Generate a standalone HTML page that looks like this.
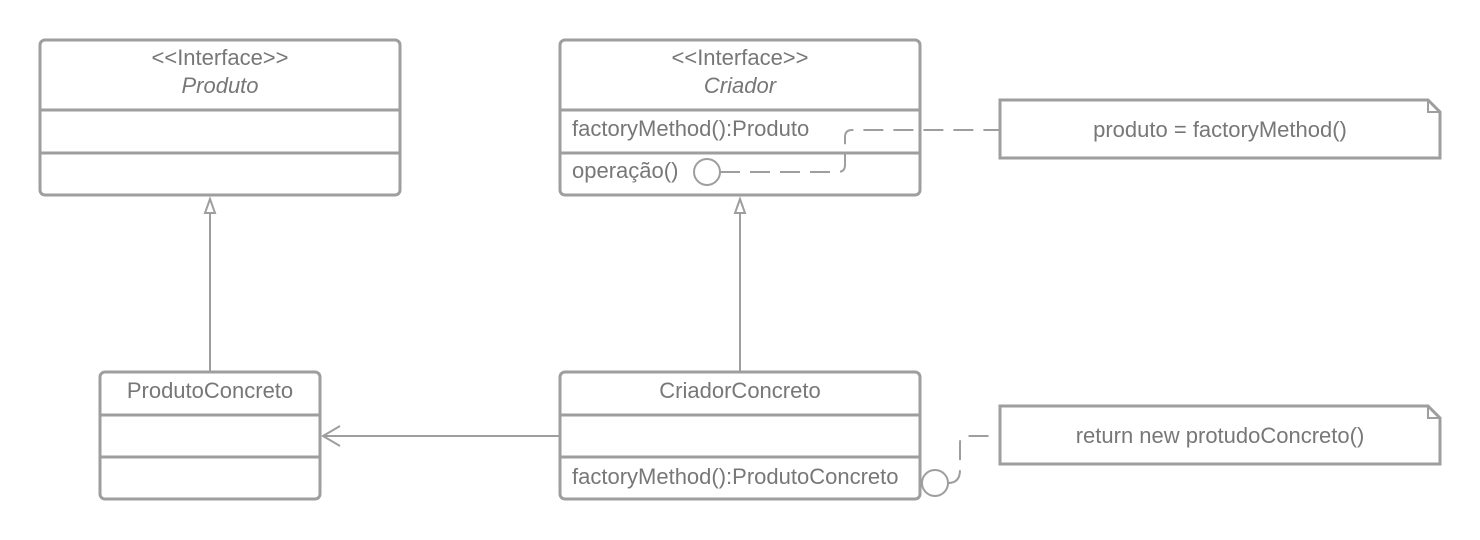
<!DOCTYPE html>
<html><head><meta charset="utf-8"><style>
html,body{margin:0;padding:0;background:#fff;}
svg{display:block;}
text{font-family:"Liberation Sans",sans-serif;fill:#777;font-size:22px;}
</style></head><body>
<svg width="1480" height="540" viewBox="0 0 1480 540" xmlns="http://www.w3.org/2000/svg">
<g fill="none" stroke="#9e9e9e" stroke-width="3">
  <rect x="40" y="40" width="360" height="155" rx="5"/>
  <line x1="40" y1="110" x2="400" y2="110"/>
  <line x1="40" y1="153" x2="400" y2="153"/>
  <rect x="560" y="40" width="360" height="155" rx="5"/>
  <line x1="560" y1="110" x2="920" y2="110"/>
  <line x1="560" y1="153" x2="920" y2="153"/>
  <rect x="100" y="372" width="220" height="127" rx="5"/>
  <line x1="100" y1="415" x2="320" y2="415"/>
  <line x1="100" y1="457" x2="320" y2="457"/>
  <rect x="560" y="372" width="360" height="127" rx="5"/>
  <line x1="560" y1="415" x2="920" y2="415"/>
  <line x1="560" y1="457" x2="920" y2="457"/>
  <path d="M1000 100 H1428 L1440 112 V158 H1000 Z"/>
  <path d="M1428 100 V112 H1440" stroke-width="2"/>
  <path d="M1000 406 H1428 L1440 418 V464 H1000 Z"/>
  <path d="M1428 406 V418 H1440" stroke-width="2"/>
</g>
<g fill="none" stroke="#9e9e9e" stroke-width="2">
  <line x1="210" y1="213" x2="210" y2="372"/>
  <path d="M210 199 L205 213 H215 Z"/>
  <line x1="740" y1="213" x2="740" y2="372"/>
  <path d="M740 199 L735 213 H745 Z"/>
  <line x1="323" y1="436" x2="560" y2="436"/>
  <path d="M340 426 L323 436 L340 446"/>
  <circle cx="707" cy="172" r="13"/>
  <circle cx="935" cy="483" r="13"/>
  <path d="M720 172 H838 Q845 172 845 165 V137 Q845 130 852 130 H1000" stroke-dasharray="20 10"/>
  <path d="M948 483 Q960 483 960 470 V443 Q960 436 967 436 H1000" stroke-dasharray="20 10"/>
</g>
<text x="220" y="65" text-anchor="middle">&lt;&lt;Interface&gt;&gt;</text>
<text x="220" y="93" text-anchor="middle" font-style="italic">Produto</text>
<text x="740" y="65" text-anchor="middle">&lt;&lt;Interface&gt;&gt;</text>
<text x="740" y="93" text-anchor="middle" font-style="italic">Criador</text>
<text x="572" y="136">factoryMethod():Produto</text>
<text x="572" y="178">operação()</text>
<text x="210" y="398" text-anchor="middle">ProdutoConcreto</text>
<text x="740" y="398" text-anchor="middle">CriadorConcreto</text>
<text x="572" y="484">factoryMethod():ProdutoConcreto</text>
<text x="1220" y="137" text-anchor="middle">produto = factoryMethod()</text>
<text x="1220" y="443" text-anchor="middle">return new protudoConcreto()</text>
</svg>
</body></html>
